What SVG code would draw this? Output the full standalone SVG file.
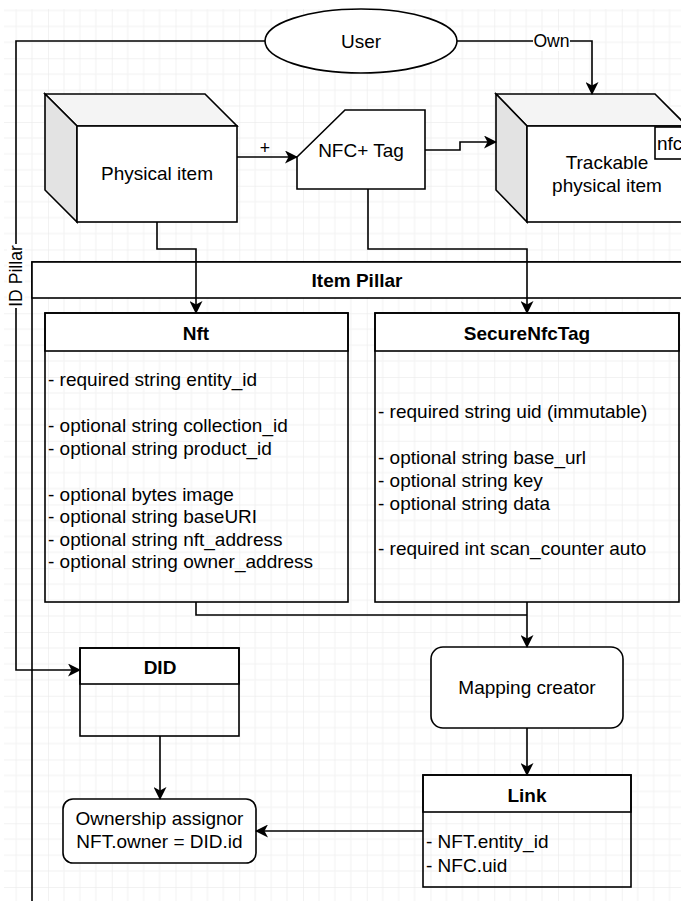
<svg xmlns="http://www.w3.org/2000/svg" width="681" height="901" viewBox="0 0 681 901">
<style>
text{font-family:"Liberation Sans",Arial,Helvetica,sans-serif;fill:#000;}
.t{font-size:19px;}
.b{font-size:19px;font-weight:bold;}
.m{text-anchor:middle;}
.lbl{font-size:17.6px;}
.s{stroke:#000;stroke-width:1.6;}
.w{fill:#fff;}
.n{fill:none;}
.conn path{fill:none;stroke:#000;stroke-width:1.6;}
</style>
<defs>
<pattern id="grid" patternUnits="userSpaceOnUse" x="48" y="58.25" width="63.75" height="63.75">
<rect x="15.44" y="0" width="1" height="63.75" fill="#f2f2f2"/>
<rect x="31.38" y="0" width="1" height="63.75" fill="#f2f2f2"/>
<rect x="47.31" y="0" width="1" height="63.75" fill="#f2f2f2"/>
<rect x="0" y="15.44" width="63.75" height="1" fill="#f2f2f2"/>
<rect x="0" y="31.38" width="63.75" height="1" fill="#f2f2f2"/>
<rect x="0" y="47.31" width="63.75" height="1" fill="#f2f2f2"/>
<rect x="-0.5" y="0" width="1" height="63.75" fill="#e6e6e6"/>
<rect x="0" y="-0.5" width="63.75" height="1" fill="#e6e6e6"/>
</pattern>
<marker id="arr" markerUnits="userSpaceOnUse" viewBox="0 0 13 13" markerWidth="13" markerHeight="13" refX="12" refY="6.5" orient="auto">
<path d="M0,0 L13,6.5 L0,13 L3.5,6.5 z" fill="#000"/>
</marker>
</defs>
<rect width="681" height="901" fill="#fff"/>
<rect x="4" y="9" width="677" height="892" fill="url(#grid)"/>

<g id="item-pillar">
<rect class="s n" x="32" y="262" width="670" height="700"/>
<rect class="s w" x="32" y="262" width="670" height="36"/>
<text class="b m" x="357" y="287">Item Pillar</text>
</g>

<g id="user">
<ellipse class="s w" cx="361" cy="41" rx="96" ry="32"/>
<text class="t m" x="361" y="48">User</text>
</g>

<g id="physical-item">
<polygon class="s" fill="#f4f4f4" points="45,94 205,94 237,126 77,126"/>
<polygon class="s" fill="#e3e3e3" points="45,94 77,126 77,222 45,190"/>
<rect class="s w" x="77" y="126" width="160" height="96"/>
<text class="t m" x="157" y="180">Physical item</text>
</g>

<g id="nfc-tag">
<polygon class="s w" points="345,110 425,110 425,189 297,189 297,157"/>
<text class="t m" x="361" y="157">NFC+ Tag</text>
</g>

<g id="trackable-item">
<polygon class="s" fill="#f4f4f4" points="496,94 655,94 687,126 527,126"/>
<polygon class="s" fill="#e3e3e3" points="496,94 527,126 527,222 496,190"/>
<rect class="s w" x="527" y="126" width="160" height="96"/>
<rect class="s w" x="655" y="127" width="45" height="32"/>
<text class="t" x="657" y="150">nfc</text>
<text class="t m" x="607" y="169">Trackable</text>
<text class="t m" x="607" y="192">physical item</text>
</g>

<g id="nft">
<rect class="s w" x="45" y="313" width="303" height="38"/>
<rect class="s n" x="45" y="313" width="303" height="289"/>
<text class="b m" x="196" y="340">Nft</text>
<text class="t" x="48" y="386">- required string entity_id</text>
<text class="t" x="48" y="432">- optional string collection_id</text>
<text class="t" x="48" y="454.5">- optional string product_id</text>
<text class="t" x="48" y="500.5">- optional bytes image</text>
<text class="t" x="48" y="523">- optional string baseURI</text>
<text class="t" x="48" y="545.5">- optional string nft_address</text>
<text class="t" x="48" y="568">- optional string owner_address</text>
</g>

<g id="secure-nfc-tag">
<rect class="s w" x="375" y="313" width="304" height="38"/>
<rect class="s n" x="375" y="313" width="304" height="289"/>
<text class="b m" x="527" y="340">SecureNfcTag</text>
<text class="t" x="378" y="418">- required string uid (immutable)</text>
<text class="t" x="378" y="464">- optional string base_url</text>
<text class="t" x="378" y="487">- optional string key</text>
<text class="t" x="378" y="510">- optional string data</text>
<text class="t" x="378" y="555">- required int scan_counter auto</text>
</g>

<g id="did">
<rect class="s w" x="80" y="648" width="159" height="36"/>
<rect class="s n" x="80" y="648" width="159" height="88"/>
<text class="b m" x="160" y="674">DID</text>
</g>

<g id="mapping-creator">
<rect class="s w" x="431" y="647" width="192" height="81" rx="12" ry="12"/>
<text class="t m" x="527" y="694">Mapping creator</text>
</g>

<g id="link">
<rect class="s w" x="423" y="775" width="208" height="37"/>
<rect class="s n" x="423" y="775" width="208" height="112"/>
<text class="b m" x="527" y="802">Link</text>
<text class="t" x="426" y="848">- NFT.entity_id</text>
<text class="t" x="426" y="872">- NFC.uid</text>
</g>

<g id="ownership-assignor">
<rect class="s w" x="63" y="799" width="193" height="64" rx="10" ry="10"/>
<text class="t m" x="159.5" y="825">Ownership assignor</text>
<text class="t m" x="159.5" y="848">NFT.owner = DID.id</text>
</g>

<g class="conn" id="connectors">
<path d="M265,41 H16 V670 H80" marker-end="url(#arr)"/>
<path d="M457,41 H592 V94" marker-end="url(#arr)"/>
<path d="M237,157 H297" marker-end="url(#arr)"/>
<path d="M425,150 H460 V142 H496" marker-end="url(#arr)"/>
<path d="M157,222 V249 H196 V313" marker-end="url(#arr)"/>
<path d="M368,189 V249 H527 V313" marker-end="url(#arr)"/>
<path d="M196,602 V615 H527"/>
<path d="M527,602 V647" marker-end="url(#arr)"/>
<path d="M527,728 V775" marker-end="url(#arr)"/>
<path d="M160,736 V799" marker-end="url(#arr)"/>
<path d="M423,831 H256" marker-end="url(#arr)"/>
<rect x="533" y="31" width="37" height="20" fill="#fff"/>
<text class="lbl m" x="551.5" y="47">Own</text>
<text class="lbl m" x="265" y="154">+</text>
<rect x="7" y="244" width="18" height="64" fill="#fff"/>
<text class="lbl m" transform="translate(22,276) rotate(-90)" x="0" y="0">ID Pillar</text>
</g>
</svg>
